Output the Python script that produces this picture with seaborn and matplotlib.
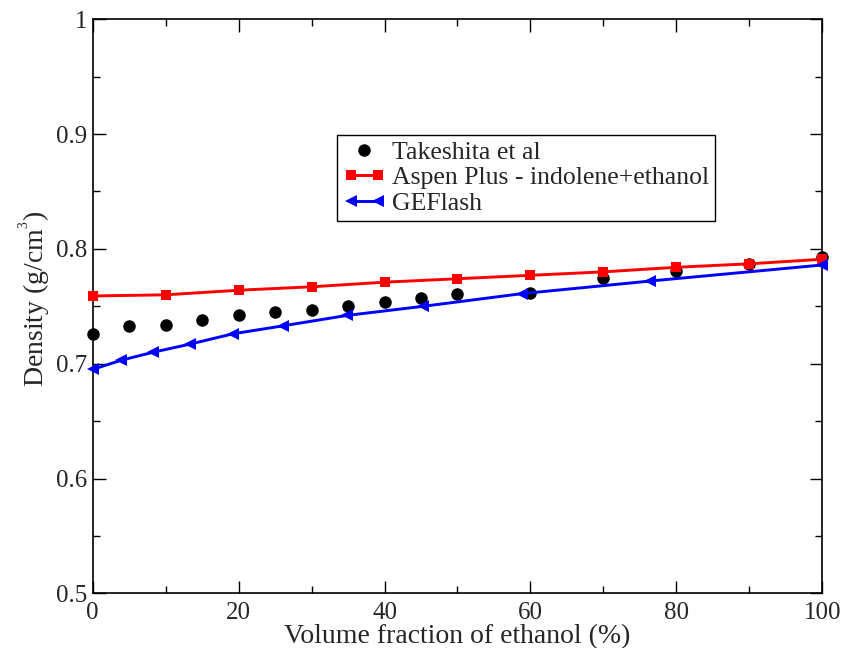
import matplotlib
matplotlib.use("Agg")
import matplotlib.pyplot as plt
from matplotlib.lines import Line2D
from matplotlib.legend_handler import HandlerLine2D
from matplotlib.ticker import MultipleLocator, FixedLocator, FixedFormatter
import seaborn as sns
import pandas as pd

# ---- data ----
takeshita_x = [0, 5, 10, 15, 20, 25, 30, 35, 40, 45, 50, 60, 70, 80, 90, 100]
takeshita_y = [0.726, 0.733, 0.734, 0.738, 0.742, 0.745, 0.747, 0.750, 0.754, 0.757,
               0.761, 0.762, 0.775, 0.781, 0.787, 0.793]

aspen_x = [0, 10, 20, 30, 40, 50, 60, 70, 80, 90, 100]
aspen_y = [0.759, 0.760, 0.764, 0.767, 0.771, 0.774, 0.777, 0.780, 0.784, 0.787, 0.791]

geflash_x = [0, 3.9, 8.3, 13.3, 19.2, 26.1, 34.8, 45.3, 58.8, 76.4, 100]
geflash_y = [0.695, 0.703, 0.710, 0.717, 0.726, 0.733, 0.742, 0.750, 0.761, 0.772, 0.786]

labels = ["Takeshita et al", "Aspen Plus - indolene+ethanol", "GEFlash"]
x_ticks = [0, 20, 40, 60, 80, 100]
x_ticklabels = ["0", "20", "40", "60", "80", "100"]
y_ticks = [0.5, 0.6, 0.7, 0.8, 0.9, 1.0]
y_ticklabels = ["0.5", "0.6", "0.7", "0.8", "0.9", "1"]
x_label = "Volume fraction of ethanol (%)"
y_label = "Density (g/cm$^{{}^{3}}$)"

# ---- style ----
sns.set_style("ticks")
plt.rcParams["font.family"] = ["Liberation Serif", "DejaVu Serif"]
plt.rcParams["mathtext.fontset"] = "custom"
plt.rcParams["mathtext.rm"] = "Liberation Serif"
plt.rcParams["mathtext.it"] = "Liberation Serif:italic"

TICK_FS = 18
LABEL_FS = 20
LEG_FS = 18.5

fig = plt.figure(figsize=(8.43, 6.48), dpi=100)
ax = fig.add_axes([92.7 / 843, 1 - 593.3 / 648, (822.3 - 92.7) / 843, (593.3 - 19.3) / 648])

df_t = pd.DataFrame({"x": takeshita_x, "y": takeshita_y})
df_a = pd.DataFrame({"x": aspen_x, "y": aspen_y})
df_g = pd.DataFrame({"x": geflash_x, "y": geflash_y})

sns.scatterplot(data=df_t, x="x", y="y", ax=ax, color="black", marker="o", s=9.0 ** 2,
                edgecolor="black", linewidth=0, zorder=3, legend=False, clip_on=False)
sns.lineplot(data=df_a, x="x", y="y", ax=ax, color="#ff0000", linewidth=2.1, marker="s",
             markersize=7.2, markeredgewidth=0, zorder=4, legend=False, clip_on=False)
sns.lineplot(data=df_g, x="x", y="y", ax=ax, color="#0000ff", linewidth=2.1, marker="<",
             markersize=9, markeredgewidth=0, zorder=5, legend=False, clip_on=False)

ax.set_xlim(0, 100)
ax.set_ylim(0.5, 1.0)
ax.xaxis.set_major_locator(FixedLocator(x_ticks))
ax.xaxis.set_major_formatter(FixedFormatter(x_ticklabels))
ax.yaxis.set_major_locator(FixedLocator(y_ticks))
ax.yaxis.set_major_formatter(FixedFormatter(y_ticklabels))
ax.xaxis.set_minor_locator(MultipleLocator(10))
ax.yaxis.set_minor_locator(MultipleLocator(0.05))
ax.tick_params(which="both", direction="in", top=True, right=True, width=1.0, color="black")
ax.tick_params(which="major", length=9, labelsize=TICK_FS)
ax.tick_params(axis="x", which="major", pad=6)
ax.tick_params(axis="y", which="major", pad=4)
ax.tick_params(which="minor", length=4.8)
for sp in ax.spines.values():
    sp.set_visible(True)
    sp.set_linewidth(1.2)
    sp.set_color("black")

ax.set_xlabel(x_label, fontsize=LABEL_FS, labelpad=0)
ax.set_ylabel(y_label, fontsize=LABEL_FS)
ax.yaxis.set_label_coords(-0.054, 0.513)

handles = [
    Line2D([], [], color="black", marker="o", linestyle="none", markersize=9, markeredgewidth=0),
    Line2D([], [], color="#ff0000", marker="s", linewidth=2.1, markersize=7.2, markeredgewidth=0),
    Line2D([], [], color="#0000ff", marker="<", linewidth=2.1, markersize=9, markeredgewidth=0),
]
leg = ax.legend(handles, labels, loc="upper left", bbox_to_anchor=(0.335, 0.799),
                borderaxespad=0, fontsize=LEG_FS, frameon=True, fancybox=False,
                edgecolor="black", framealpha=1, numpoints=2, handlelength=1.67,
                handletextpad=0.23, labelspacing=0.1, borderpad=0.23,
                handler_map={handles[0]: HandlerLine2D(numpoints=1)})
leg.get_frame().set_linewidth(1.0)

fig.savefig("out.png", dpi=100)
